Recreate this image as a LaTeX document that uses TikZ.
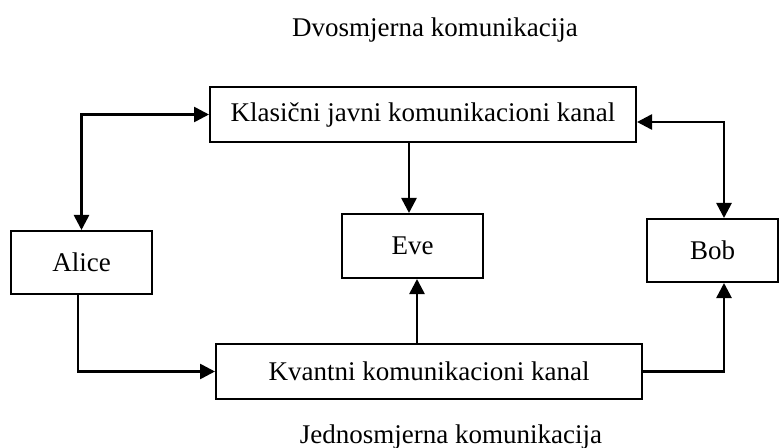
\documentclass[tikz,border=0pt]{standalone}
\usepackage{fontspec}
\setmainfont{Liberation Serif}
\usepackage{tikz}
\usetikzlibrary{positioning,arrows.meta}
\tikzset{kutija/.style={rectangle, draw, line width=1pt, inner sep=0pt, font=\fontsize{13.5}{16}\selectfont}}
\tikzset{natpis/.style={inner sep=0pt, font=\fontsize{13.5}{16}\selectfont}}

\begin{document}
\begin{tikzpicture}[x=0.5pt, y=-0.5pt, >={Triangle[length=7.5pt,width=7.5pt]}, line width=1.3pt]
\useasboundingbox (0,0) rectangle (779,448);
\node[natpis] (Dvo) at (435,30) {Dvosmjerna komunikacija};
\node[kutija, minimum width=213pt, minimum height=27.5pt] (Klasicni) at (423,114.5) {Klasični javni komunikacioni kanal};
\node[kutija, minimum width=70.5pt, minimum height=31.5pt] (Alice) at (81.5,262.5) {Alice};
\node[kutija, minimum width=70.5pt, minimum height=32pt] (Eve) at (412.5,246) {Eve};
\node[kutija, minimum width=65.5pt, minimum height=31.5pt] (Bob) at (712.5,250.5) {Bob};
\node[kutija, minimum width=213pt, minimum height=27.5pt] (Kvantni) at (429,371.5) {Kvantni komunikacioni kanal};
\node[natpis] (Jedno) at (451,437) {Jednosmjerna komunikacija};
\draw[<->] (Alice.north) |- (Klasicni.west);
\draw[->] ([xshift=-1.75pt]Eve.north |- Klasicni.south) -- ([xshift=-1.75pt]Eve.north);
\draw[<->] ([yshift=-3.75pt]Klasicni.east) -| ([xshift=5.75pt]Bob.north);
\draw[->] ([xshift=-1.75pt]Alice.south) |- (Kvantni.west);
\draw[->] ([xshift=2.25pt]Eve.south |- Kvantni.north) -- ([xshift=2.25pt]Eve.south);
\draw[->] (Kvantni.east) -| ([xshift=5.75pt]Bob.south);
\end{tikzpicture}
\end{document}
